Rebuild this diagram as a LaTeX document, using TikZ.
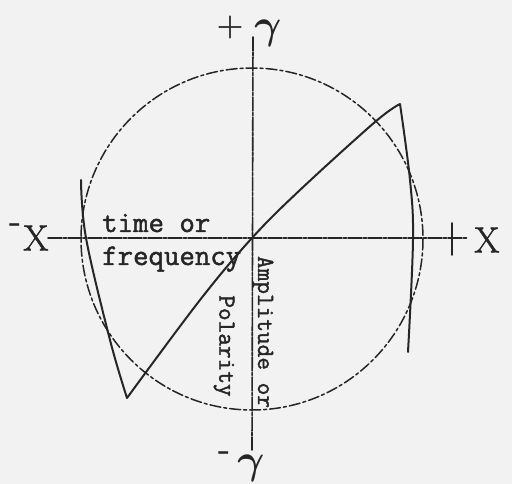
\documentclass[tikz,border=0pt]{standalone}
\usepackage{fontspec}
\newfontfamily\typew{Latin Modern Mono}[FakeBold=1.6]
\newfontfamily\handf{Latin Modern Roman}[FakeBold=1.5]
\begin{document}
\begin{tikzpicture}[x=1pt,y=-1pt,
  ink/.style={draw=black!85, line width=1.8pt, line cap=round},
  axisline/.style={ink, line width=1.6pt, dash pattern=on 14pt off 1.5pt on 3pt off 1.5pt},
  ring/.style={ink, line width=1.5pt, dash pattern=on 11pt off 3pt on 3pt off 3pt},
  wave/.style={ink, line width=2pt, line join=round},
  hand/.style={text=black!85, inner sep=0pt, font=\handf\fontsize{36}{36}\selectfont},
  greek/.style={text=black!85, inner sep=0pt, scale=2, font=\boldmath\fontsize{20}{20}\selectfont},
  typed/.style={text=black!85, inner sep=0pt, anchor=base west, font=\typew\fontsize{30}{30}\selectfont},
  typedv/.style={text=black!85, inner sep=0pt, rotate=-90, font=\typew\fontsize{24.6}{25}\selectfont}]
\fill[black!5] (0,0) rectangle (512,484);
\useasboundingbox (0,0) rectangle (512,484);
% coordinates
\coordinate (O) at (252,238);
\coordinate (xl) at (48,238);
\coordinate (xr) at (468,238);
\coordinate (yt) at (253,37);
\coordinate (yb) at (252,450);
\coordinate (tickT) at (452,223);
\coordinate (tickB) at (452,255);
% circle
\draw[ring] (252,239) circle[radius=171];
% axes
\draw[axisline] (xl) -- (xr);
\draw[axisline] (yt) -- (yb);
\draw[ink, line width=1.8pt] (tickT) -- (tickB);
% sawtooth wave
\draw[wave] plot[smooth, tension=0.6] coordinates {(81,180) (86,238) (110,340) (127,398)}
  -- (127,398) plot[smooth, tension=0.6] coordinates {(127,398) (200,300) (252,238) (300,190) (375,122) (400,104)}
  -- (400,104) plot[smooth, tension=0.6] coordinates {(400,104) (410,180) (413,240) (408,352)};
% axis labels
\node[hand] (mxs) at (15,228) {-};
\node[hand] (mx) at (36,238) {X};
\node[hand] (px) at (487,240) {X};
\node[hand] (py) at (230,27) {+};
\node[greek] (gy) at (268,33) {$\gamma$};
\node[hand] (my) at (224,456) {-};
\node[greek] (gb) at (251,468) {$\gamma$};
% typed texts
\node[typed] (t1) at (102,232) {time or};
\node[typed] (t2) at (102,265) {frequency};
\node[typedv] (a1) at (263,332) {Amplitude or};
\node[typedv] (a2) at (224,346) {Polarity};
\end{tikzpicture}
\end{document}
